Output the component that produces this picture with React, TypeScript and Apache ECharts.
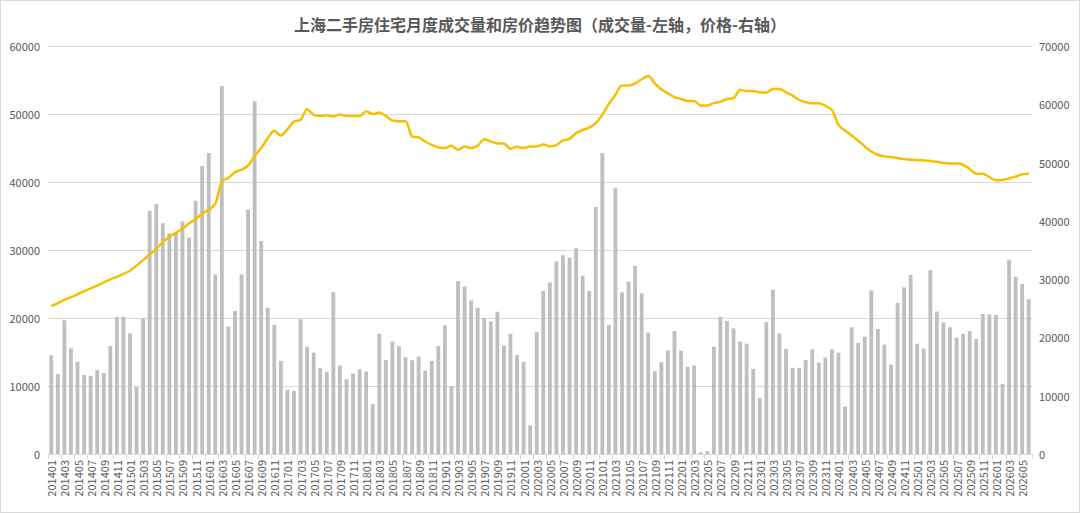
import React, { useEffect, useRef } from "react";
import * as echarts from "echarts";

const TITLE = "上海二手房住宅月度成交量和房价趋势图（成交量-左轴，价格-右轴）";

const startYear = 2014;
const monthCount = 150;
const categories: string[] = [];
for (let i = 0; i < monthCount; i++) {
  const y = startYear + Math.floor(i / 12);
  const m = (i % 12) + 1;
  categories.push(`${y}${m < 10 ? "0" + m : m}`);
}

const leftTicks = [0, 10000, 20000, 30000, 40000, 50000, 60000];
const rightTicks = [0, 10000, 20000, 30000, 40000, 50000, 60000, 70000];

// 成交量 (套)
const volumes = [
  14520, 11740, 19660, 15550, 13550, 11640, 11490, 12370, 11930, 15890, 20200, 20200,
  17750, 9880, 19950, 35790, 36770, 33940, 32470, 32670, 34180, 31830, 37260, 42350,
  44250, 26410, 54130, 18730, 21030, 26410, 35940, 51880, 31340, 21520, 18970, 13690,
  9440, 9290, 19800, 15750, 14910, 12620, 12080, 23770, 13010, 11000, 11830, 12470,
  12130, 7330, 17700, 13840, 16530, 15840, 14230, 13790, 14330, 12270, 13690, 15890,
  18920, 9930, 25430, 24650, 22590, 21520, 20000, 19510, 20930, 15940, 17700, 14570,
  13550, 4210, 17950, 23960, 25230, 28310, 29240, 28900, 30270, 26210, 23960, 36330,
  44250, 18970, 39070, 23770, 25380, 27630, 23620, 17850, 12180, 13500, 15210, 18090,
  15210, 12810, 13010, 250, 400, 15790, 20200, 19560, 18480, 16530, 16230, 12520,
  8220, 19360, 24160, 17750, 15450, 12670, 12670, 13840, 15400, 13450, 14180, 15400,
  14910, 6990, 18630, 16330, 17260, 24060, 18390, 16090, 13150, 22200, 24500, 26360,
  16230, 15500, 27040, 20950, 19320, 18650, 17110, 17700, 18090, 16920, 20590, 20540,
  20440, 10320, 28560, 26060, 24990, 22740,
];

// 价格 (元/平)
const prices = [
  25400, 25900, 26450, 26900, 27400, 27950, 28400, 28900, 29400, 29950, 30400, 30900,
  31430, 32340, 33260, 34230, 35200, 36340, 37250, 37930, 38680, 39530, 40330, 41190,
  41930, 42900, 46780, 47350, 48370, 48770, 49460, 51170, 52480, 54190, 55450, 54650,
  55730, 57040, 57330, 59150, 58190, 58010, 58130, 57900, 58240, 58010, 58010, 58010,
  58810, 58300, 58580, 58010, 57210, 57100, 57100, 54480, 54310, 53620, 53050, 52600,
  52480, 52880, 52200, 52770, 52480, 52880, 54020, 53620, 53280, 53280, 52370, 52710,
  52480, 52770, 52770, 53110, 52770, 53000, 53790, 54080, 55050, 55600, 56000, 56760,
  58190, 60070, 61610, 63210, 63210, 63600, 64290, 64860, 63600, 62580, 61890, 61210,
  60920, 60580, 60580, 59780, 59780, 60240, 60410, 60920, 61040, 62470, 62290, 62290,
  62060, 62010, 62640, 62640, 62060, 61490, 60750, 60350, 60180, 60180, 59730, 59040,
  56480, 55500, 54650, 53790, 52770, 51910, 51340, 51060, 50940, 50770, 50600, 50480,
  50450, 50370, 50280, 50140, 49940, 49860, 49860, 49630, 48890, 48090, 48090, 47520,
  46950, 47010, 47290, 47580, 47980, 48090,
];

const FONT = "'Noto Sans CJK SC', 'Noto Sans', sans-serif";
const LABEL_COLOR = "#595959";
const plain = (v: number) => String(v);

export default function App() {
  const ref = useRef<HTMLDivElement>(null);
  useEffect(() => {
    document.body.style.margin = "0";
    if (!ref.current) return;
    const chart = echarts.init(ref.current, undefined, { renderer: "svg" });
    chart.setOption({
      animation: false,
      backgroundColor: "#ffffff",
      textStyle: { fontFamily: FONT },
      title: {
        text: TITLE,
        left: "center",
        top: 10,
        textStyle: { fontSize: 16, fontWeight: "bold", color: "#595959", fontFamily: FONT },
      },
      grid: { left: 47, right: 47, top: 45, bottom: 58 },
      xAxis: {
        type: "category",
        data: categories,
        boundaryGap: true,
        axisLine: { lineStyle: { color: "#d9d9d9" } },
        axisTick: { show: true, interval: 1, length: 5, lineStyle: { color: "#d9d9d9" } },
        axisLabel: {
          interval: 1,
          rotate: 90,
          color: LABEL_COLOR,
          fontSize: 11,
          margin: 6,
          fontFamily: FONT,
        },
      },
      yAxis: [
        {
          type: "value",
          min: leftTicks[0],
          max: leftTicks[leftTicks.length - 1],
          interval: 10000,
          axisLine: { show: false },
          axisTick: { show: false },
          splitLine: { lineStyle: { color: "#d9d9d9" } },
          axisLabel: { color: LABEL_COLOR, fontSize: 11, margin: 8, fontFamily: FONT, formatter: plain },
        },
        {
          type: "value",
          min: rightTicks[0],
          max: rightTicks[rightTicks.length - 1],
          interval: 10000,
          axisLine: { show: false },
          axisTick: { show: false },
          splitLine: { show: false },
          axisLabel: { color: LABEL_COLOR, fontSize: 11, margin: 7, fontFamily: FONT, formatter: plain },
        },
      ],
      series: [
        {
          name: "成交量",
          type: "bar",
          yAxisIndex: 0,
          data: volumes,
          barWidth: "58%",
          itemStyle: { color: "#bfbfbf" },
        },
        {
          name: "价格",
          type: "line",
          yAxisIndex: 1,
          data: prices,
          smooth: 0.3,
          symbol: "none",
          lineStyle: { color: "#f5c000", width: 2.5 },
        },
      ],
    });
    return () => chart.dispose();
  }, []);
  return (
    <div
      style={{
        width: 1080,
        height: 513,
        boxSizing: "border-box",
        border: "1px solid #d9d9d9",
        overflow: "hidden",
      }}
    >
      <div ref={ref} style={{ width: 1078, height: 511 }} />
    </div>
  );
}
